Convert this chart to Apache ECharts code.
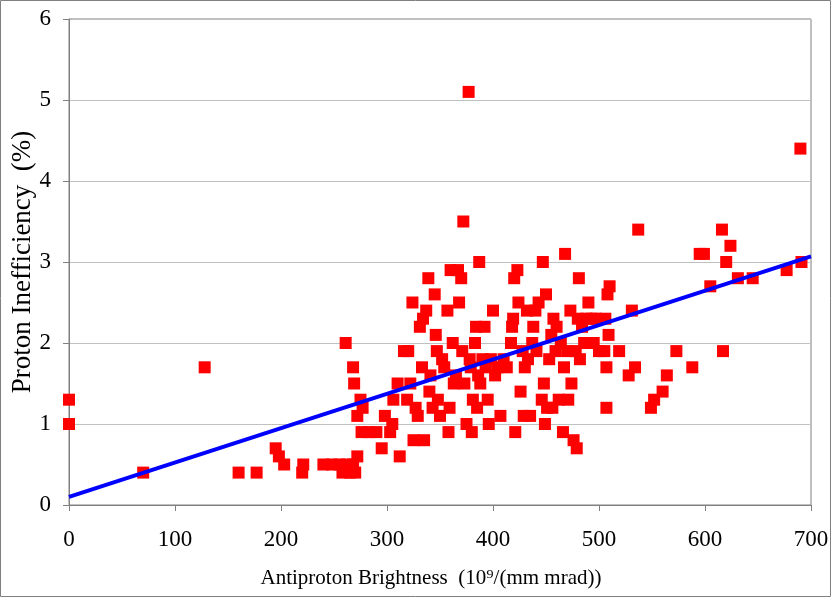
<!DOCTYPE html>
<html>
<head>
<meta charset="utf-8">
<script src="https://cdn.jsdelivr.net/npm/echarts@6/dist/echarts.min.js"></script>
<style>
  html, body { margin: 0; padding: 0; background: #fff; }
  #main { width: 831px; height: 597px; }
</style>
</head>
<body>
<div id="main"></div>
<script>
// brightness (x) and inefficiency (y)
var brightness = [
  0, 0, 70, 128, 160, 177, 195, 198, 203, 220, 221,
  240, 248, 255, 258, 262, 265, 268, 270, 261,
  268, 269, 275, 272, 277, 276, 272, 283, 290, 295, 298, 303, 305, 306, 310, 312,
  316, 320, 322, 319, 324, 325, 327, 329, 331, 333, 334, 335, 337, 339, 340, 341, 343,
  345, 346, 347, 348, 350, 352, 354, 357, 358, 359, 360, 362, 363, 365, 367, 368, 370,
  371, 372, 373, 375, 377, 378, 379, 380, 381, 383, 384, 385, 386, 387, 388, 390, 392,
  393, 395, 396, 398, 400, 402, 404, 407, 410, 413, 417, 418, 419, 420, 421, 423, 424,
  426, 428, 429, 430, 432, 433, 435, 437, 438, 440, 441, 443, 446, 447, 448, 449, 450,
  451, 453, 455, 456, 457, 459, 460, 462, 464, 466, 467, 468, 470, 471, 473, 474, 476,
  478, 479, 480, 481, 482, 484, 486, 488, 490, 493, 495, 497, 500, 505, 507, 506, 507,
  508, 509, 510, 519,
  528, 531, 534, 537, 549, 552, 560, 564, 573, 588, 595, 599, 605, 616, 617, 620, 624,
  631, 645, 677, 691, 690
];
var inefficiency = [
  1.3, 1.0, 0.4, 1.7, 0.4, 0.4, 0.7, 0.6, 0.5, 0.4, 0.5,
  0.5, 0.5, 0.5, 0.4, 0.5, 0.4, 0.5, 0.4, 2.0,
  1.7, 1.5, 1.3, 1.1, 1.2, 0.9, 0.6, 0.9, 0.9, 0.7, 1.1, 0.9, 1.0, 1.3, 1.5, 0.6,
  1.9, 1.9, 1.5, 1.3, 2.5, 0.8, 1.2, 1.1, 2.2, 1.7, 2.3, 0.8, 2.4, 2.8, 1.4, 1.6, 1.2,
  2.6, 2.1, 1.9, 1.3, 1.1, 1.8, 1.7, 2.4, 0.9, 1.2, 2.9, 2.0, 1.5, 1.6, 2.9, 2.5, 2.8,
  1.9, 3.5, 1.5, 1.0, 5.1, 1.8, 1.7, 0.9, 1.3, 2.0, 2.2, 1.2, 1.6, 3.0, 1.5, 1.8, 2.2,
  1.7, 1.3, 1.0, 1.8, 2.4, 1.6, 1.7, 1.1, 1.8, 1.7, 2.0, 2.2, 2.3, 2.8, 0.9, 2.9, 2.5,
  1.4, 1.9, 1.1, 1.7, 2.4, 1.8, 1.1, 2.0, 2.2, 2.4, 1.9, 2.5, 1.3, 3.0, 1.5, 1.0, 2.6,
  1.2, 1.8, 2.1, 1.2, 2.3, 1.9, 2.2, 1.3, 2.0, 0.9, 1.7, 3.1, 1.9, 1.3, 2.4, 1.5, 0.8,
  1.9, 0.7, 2.3, 2.8, 1.8, 2.2, 2.0, 2.3, 2.5, 2.3, 2.0, 2.3, 1.9, 1.9, 1.7, 2.3, 1.2,
  2.6, 2.1, 2.7, 1.9,
  1.6, 2.4, 1.7, 3.4, 1.2, 1.3, 1.4, 1.6, 1.9, 1.7, 3.1, 3.1, 2.7, 3.4, 1.9, 3.0, 3.2,
  2.8, 2.8, 2.9, 3.0, 4.4
];
// linear trend line end points
var trendX = [0, 700];
var trendY = [0.1, 3.07];

var points = brightness.map(function (x, i) { return [x, inefficiency[i]]; });
var trend = trendX.map(function (x, i) { return [x, trendY[i]]; });

var myChart = echarts.init(document.getElementById('main'));
var font = 'Liberation Serif';
var option = {
  animation: false,
  backgroundColor: '#fff',
  graphic: [{
    type: 'rect',
    shape: { x: 0.5, y: 0.5, width: 830, height: 596 },
    style: { fill: 'none', stroke: '#808080', lineWidth: 1 },
    silent: true
  }],
  grid: {
    left: 69, right: 20, top: 19, bottom: 92,
    outerBoundsMode: 'none',
    containLabel: false,
    show: true, borderColor: '#808080', borderWidth: 1
  },
  xAxis: {
    type: 'value', min: 0, max: 700, interval: 100,
    name: 'Antiproton Brightness  (10⁹/(mm mrad))',
    nameLocation: 'middle', nameGap: 63,
    nameTextStyle: { fontFamily: font, fontSize: 21, color: '#000', padding: [0, 18, 0, 0] },
    axisLine: { onZero: false, lineStyle: { color: '#808080' } },
    axisTick: { length: 6, lineStyle: { color: '#808080' } },
    axisLabel: { fontFamily: font, fontSize: 23, color: '#000', margin: 23 },
    splitLine: { show: false }
  },
  yAxis: {
    type: 'value', min: 0, max: 6, interval: 1,
    name: 'Proton Inefficiency  (%)',
    nameLocation: 'middle', nameGap: 33,
    nameMoveOverlap: false,
    nameTextStyle: { fontFamily: font, fontSize: 27, color: '#000' },
    axisLine: { show: true, lineStyle: { color: '#808080' } },
    axisTick: { show: true, length: 6, lineStyle: { color: '#808080' } },
    axisLabel: { fontFamily: font, fontSize: 23, color: '#000', margin: 18 },
    splitLine: { show: true, lineStyle: { color: '#c0c0c0', width: 1 } }
  },
  series: [{
    type: 'scatter',
    data: points,
    symbol: 'rect',
    symbolSize: 12,
    itemStyle: { color: '#ff0000', opacity: 1 },
    z: 2
  }, {
    type: 'line',
    data: trend,
    showSymbol: false,
    symbol: 'none',
    lineStyle: { color: '#0000ff', width: 4 },
    z: 3
  }]
};
myChart.setOption(option);
</script>
</body>
</html>
